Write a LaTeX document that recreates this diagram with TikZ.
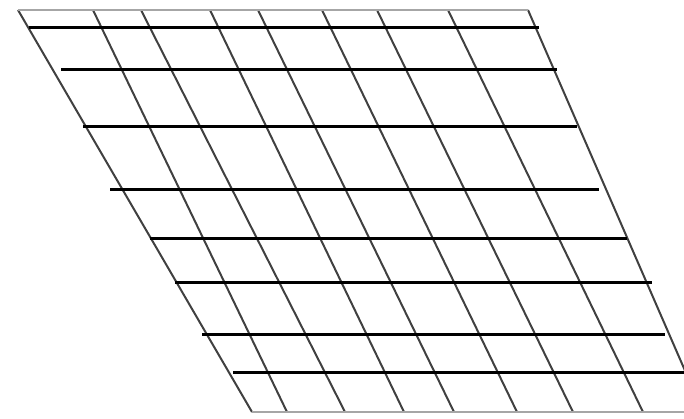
\documentclass[tikz,border=0pt]{standalone}
\usepackage{tikz}

\begin{document}
\begin{tikzpicture}[x=1pt,y=-1pt,
  tiltline/.style={line width=2pt,black!75},
  edgeline/.style={line width=2pt,black!35},
  barline/.style={line width=3pt,black}]
\useasboundingbox (0,0) rectangle (684,419);
\clip (0,0) rectangle (684,419);
% slanted lines, top x / bottom x
\foreach \t/\b [count=\i] in {18/252,93/287,141/345,210/404,258/454,322/517,377/573,448/643,528/703}{
  \coordinate (top\i) at (\t,10);
  \coordinate (bot\i) at (\b,412);
  \draw[tiltline] (top\i) -- (bot\i);
}
% top and bottom edges
\draw[edgeline] (top1) -- (top9);
\draw[edgeline] (bot1) -- (bot9);
% horizontal bars, y / start / end
\foreach \y/\a/\e [count=\j] in {28/29/539,70/61/557,127/83/577,190/110/599,239/150/627,282/175/652,334/202/665,372/233/688}{
  \coordinate (barl\j) at (\a,\y);
  \coordinate (barr\j) at (\e,\y);
  \draw[barline] (barl\j) -- (barr\j);
}
\end{tikzpicture}
\end{document}
